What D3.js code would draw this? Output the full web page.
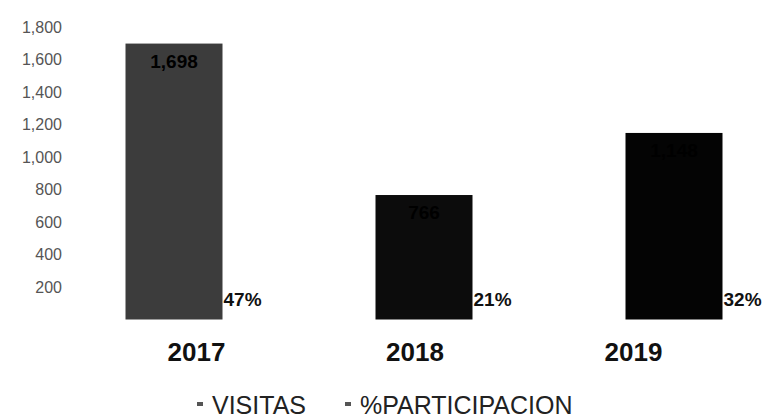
<!DOCTYPE html>
<html>
<head>
<meta charset="utf-8">
<script src="https://cdn.jsdelivr.net/npm/d3@7"></script>
<style>
  html, body { margin: 0; padding: 0; background: #ffffff; }
  svg { display: block; }
</style>
</head>
<body>
<svg id="chart" width="768" height="418"></svg>
<script>
// ---- data ----
const years = ["2017", "2018", "2019"];
const visitas = [1698, 766, 1148];
const participacion = [0.47, 0.21, 0.32];
const yTicks = [200, 400, 600, 800, 1000, 1200, 1400, 1600, 1800];
const legendLabels = ["VISITAS", "%PARTICIPACION"];
const barShades = ["#3c3c3c", "#0c0c0c", "#040404"];

const svg = d3.select("#chart");

const y = d3.scaleLinear().domain([0, 1800]).range([319.5, 27]);
const x = d3.scaleBand().domain(years).range([49, 799])
  .paddingInner(0.612).paddingOuter(0.306);
const xLab = d3.scalePoint().domain(years).range([196, 633]);

// y axis
const yAxis = svg.append("g")
  .attr("transform", "translate(62,0)")
  .call(d3.axisLeft(y).tickValues(yTicks).tickFormat(d3.format(",")).tickSize(0).tickPadding(0));
yAxis.select(".domain").remove();
yAxis.selectAll("text")
  .attr("font-family", "Liberation Sans, Arial, sans-serif")
  .attr("font-size", 16)
  .attr("fill", "#555");

// bars
const data = years.map((yr, i) => ({ yr, v: visitas[i], p: participacion[i], shade: barShades[i] }));
svg.append("g").selectAll("rect").data(data).join("rect")
  .attr("x", d => x(d.yr))
  .attr("y", d => y(d.v))
  .attr("width", x.bandwidth())
  .attr("height", d => y(0) - y(d.v))
  .attr("fill", d => d.shade);

// value labels inside top of bars (dark text, nearly hidden on dark bars)
svg.append("g").selectAll("text").data(data).join("text")
  .attr("x", d => x(d.yr) + x.bandwidth() / 2)
  .attr("y", d => y(d.v) + 24)
  .attr("text-anchor", "middle")
  .attr("font-family", "Liberation Sans, Arial, sans-serif")
  .attr("font-weight", "bold")
  .attr("font-size", 19)
  .attr("fill", "#000")
  .text(d => d3.format(",")(d.v));

// percentage labels to the right of bar bottoms
svg.append("g").selectAll("text").data(data).join("text")
  .attr("x", d => x(d.yr) + x.bandwidth() + 1)
  .attr("y", 306)
  .attr("font-family", "Liberation Sans, Arial, sans-serif")
  .attr("font-weight", "bold")
  .attr("font-size", 19)
  .attr("fill", "#111")
  .text(d => d3.format(".0%")(d.p));

// x axis labels
const xAxis = svg.append("g")
  .attr("transform", "translate(0,343)")
  .call(d3.axisBottom(xLab).tickSize(0).tickPadding(0));
xAxis.select(".domain").remove();
xAxis.selectAll("text")
  .attr("dy", "0.71em")
  .attr("font-family", "Liberation Sans, Arial, sans-serif")
  .attr("font-weight", "bold")
  .attr("font-size", 26)
  .attr("fill", "#111");

// legend
const legendX = [197, 345];
const lg = svg.append("g").selectAll("g").data(legendLabels).join("g")
  .attr("transform", (d, i) => `translate(${legendX[i]},0)`);
lg.append("rect")
  .attr("x", 0).attr("y", 402).attr("width", 6).attr("height", 4)
  .attr("fill", "#555");
lg.append("text")
  .attr("x", 15)
  .attr("y", 414)
  .attr("font-family", "Liberation Sans, Arial, sans-serif")
  .attr("font-size", 25)
  .attr("fill", "#222")
  .text(d => d);
</script>
</body>
</html>
